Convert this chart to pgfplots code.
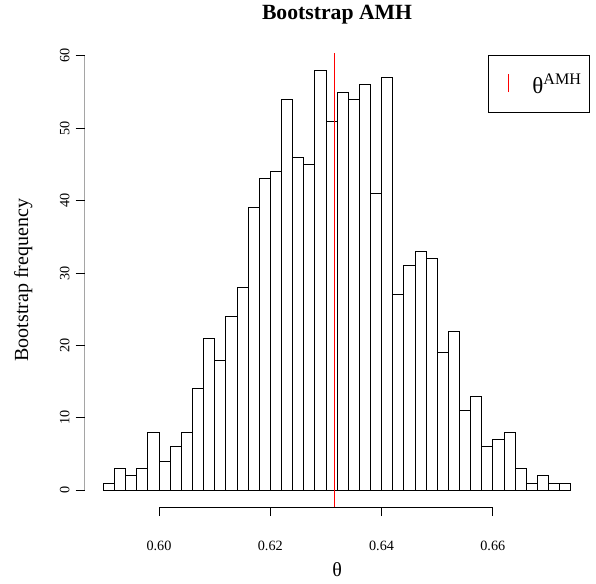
\documentclass[border=0pt]{standalone}
\usepackage{pgfplots}
\pgfplotsset{compat=1.18}
\usepackage{fontspec}
\setmainfont{Liberation Serif}

\pgfplotstableread{
x y
0.590 1
0.592 3
0.594 2
0.596 3
0.598 8
0.600 4
0.602 6
0.604 8
0.606 14
0.608 21
0.610 18
0.612 24
0.614 28
0.616 39
0.618 43
0.620 44
0.622 54
0.624 46
0.626 45
0.628 58
0.630 51
0.632 55
0.634 54
0.636 56
0.638 41
0.640 57
0.642 27
0.644 31
0.646 33
0.648 32
0.650 19
0.652 22
0.654 11
0.656 13
0.658 6
0.660 7
0.662 8
0.664 3
0.666 1
0.668 2
0.670 1
0.672 1
0.674 1
}\histdata

\pgfplotstableread{
x y
0.6316 -2.32
0.6316 60.32
}\amhline

\definecolor{rred}{RGB}{255,0,0}

\begin{document}
\begin{tikzpicture}
\begin{axis}[
  at={(0pt,0pt)}, anchor=south west,
  scale only axis, width=504.7pt, height=453.7pt,
  xmin=0.58664, xmax=0.67736, ymin=-2.32, ymax=60.32,
  axis lines*=left,
  axis line style={draw=none},
  tick align=outside,
  major tick length=9pt,
  tick style={black, line width=0.8pt},
  xtick={0.60,0.62,0.64,0.66},
  xticklabels={0.60,0.62,0.64,0.66},
  ytick={0,10,20,30,40,50,60},
  yticklabels={0,10,20,30,40,50,60},
  xticklabel style={font=\fontsize{14.2}{14.2}\selectfont, anchor=center, yshift=-30pt},
  yticklabel style={font=\fontsize{14.2}{14.2}\selectfont, rotate=90, anchor=center, yshift=11pt},
  title={Bootstrap AMH},
  title style={font=\fontsize{21.7}{24}\selectfont\bfseries, at={(axis description cs:0.5,1.0604)}, anchor=base},
  xlabel={θ},
  xlabel style={font=\fontsize{20}{24}\selectfont, at={(axis description cs:0.5,-0.138)}, anchor=center},
  ylabel={Bootstrap frequency},
  ylabel style={font=\fontsize{20}{24}\selectfont, at={(axis description cs:-0.122,0.5)}, anchor=center},
  legend style={at={(axis description cs:1,0.996)}, anchor=north east, draw=black, line width=0.8pt,
    font=\fontsize{23}{25}\selectfont, inner xsep=5.5pt, inner ysep=16pt},
  legend image code/.code={%
    \path[draw=none] (0pt,0pt) rectangle (37pt,0pt);
    \draw[color=rred, draw=rred, line width=1pt] (15.5pt,-8pt) -- (15.5pt,10pt);
  },
]
\addplot[ybar interval, fill=white, draw=black, line width=0.8pt, forget plot] table[x=x, y=y] {\histdata};
\addplot[draw=rred, color=rred, line width=0.9pt] table[x=x, y=y] {\amhline};
\addlegendentry{θ\textsuperscript{AMH}}
\draw[black, line width=0.8pt] (axis cs:0.60,-2.32) -- (axis cs:0.66,-2.32);
\draw[black, line width=0.8pt] (axis cs:0.58664,0) -- (axis cs:0.58664,60);
\end{axis}
\pgfresetboundingbox
\path[use as bounding box] (-84.7pt,-75.9pt) rectangle (511.3pt,507.1pt);
\end{tikzpicture}
\end{document}
